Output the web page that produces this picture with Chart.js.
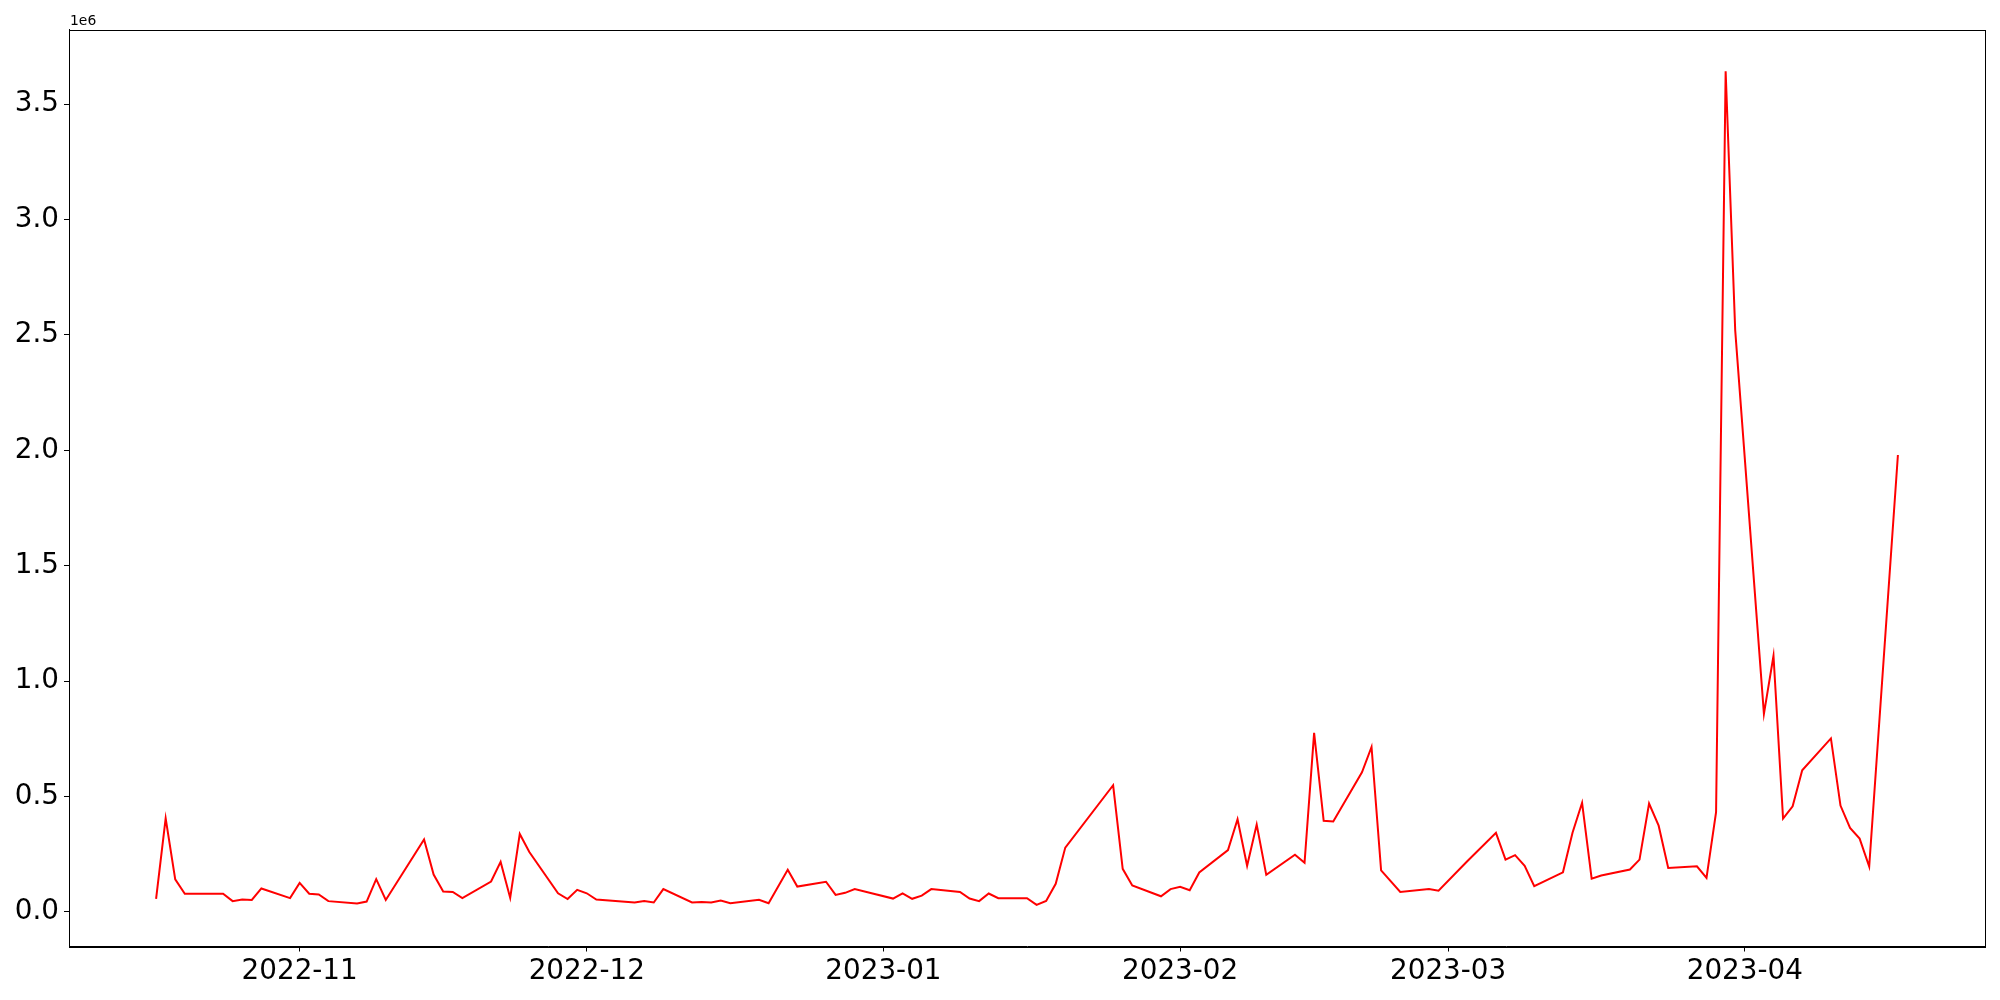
<!DOCTYPE html>
<html>
<head>
<meta charset="utf-8">
<title>Daily values</title>
<script src="https://cdn.jsdelivr.net/npm/chart.js@4.4.0/dist/chart.umd.min.js"></script>
<style>
  body { margin: 0; background: #ffffff; }
  #lineChart { display: block; }
</style>
</head>
<body>
<canvas id="lineChart" width="2000" height="1000"></canvas>
<script>
// data (values in millions)
var dates = [
  "2022-10-17","2022-10-18","2022-10-19","2022-10-20","2022-10-24","2022-10-25","2022-10-26","2022-10-27","2022-10-28","2022-10-31",
  "2022-11-01","2022-11-02","2022-11-03","2022-11-04","2022-11-07","2022-11-08","2022-11-09","2022-11-10","2022-11-14","2022-11-15",
  "2022-11-16","2022-11-17","2022-11-18","2022-11-21","2022-11-22","2022-11-23","2022-11-24","2022-11-25","2022-11-28","2022-11-29",
  "2022-11-30","2022-12-01","2022-12-02","2022-12-06","2022-12-07","2022-12-08","2022-12-09","2022-12-12","2022-12-13","2022-12-14",
  "2022-12-15","2022-12-16","2022-12-19","2022-12-20","2022-12-22","2022-12-23","2022-12-26","2022-12-27","2022-12-28","2022-12-29",
  "2023-01-02","2023-01-03","2023-01-04","2023-01-05","2023-01-06","2023-01-09","2023-01-10","2023-01-11","2023-01-12","2023-01-13",
  "2023-01-16","2023-01-17","2023-01-18","2023-01-19","2023-01-20","2023-01-25","2023-01-26","2023-01-27","2023-01-30","2023-01-31",
  "2023-02-01","2023-02-02","2023-02-03","2023-02-06","2023-02-07","2023-02-08","2023-02-09","2023-02-10","2023-02-13","2023-02-14",
  "2023-02-15","2023-02-16","2023-02-17","2023-02-20","2023-02-21","2023-02-22","2023-02-24","2023-02-27","2023-02-28","2023-03-03",
  "2023-03-06","2023-03-07","2023-03-08","2023-03-09","2023-03-10","2023-03-13","2023-03-14","2023-03-15","2023-03-16","2023-03-17",
  "2023-03-20","2023-03-21","2023-03-22","2023-03-23","2023-03-24","2023-03-27","2023-03-28","2023-03-29","2023-03-30","2023-03-31",
  "2023-04-03","2023-04-04","2023-04-05","2023-04-06","2023-04-07","2023-04-10","2023-04-11","2023-04-12","2023-04-13","2023-04-14",
  "2023-04-17"
];
var valuesM = [
  0.057,0.406,0.141,0.079,0.079,0.047,0.054,0.052,0.102,0.060,
  0.126,0.079,0.076,0.047,0.037,0.045,0.142,0.052,0.314,0.162,
  0.089,0.087,0.060,0.132,0.217,0.061,0.338,0.260,0.081,0.056,
  0.096,0.081,0.054,0.041,0.048,0.041,0.099,0.041,0.043,0.041,
  0.050,0.038,0.053,0.038,0.183,0.110,0.131,0.074,0.083,0.099,
  0.058,0.081,0.057,0.071,0.099,0.087,0.058,0.047,0.080,0.060,
  0.060,0.031,0.048,0.122,0.279,0.549,0.187,0.115,0.068,0.099,
  0.109,0.094,0.171,0.268,0.402,0.200,0.379,0.161,0.248,0.213,
  0.776,0.395,0.392,0.605,0.715,0.180,0.087,0.100,0.092,0.220,
  0.343,0.227,0.246,0.200,0.112,0.172,0.343,0.473,0.144,0.158,
  0.184,0.227,0.470,0.374,0.191,0.198,0.148,0.432,3.643,2.520,
  0.858,1.110,0.405,0.458,0.614,0.752,0.461,0.364,0.318,0.197,
  1.980
];
// x tick labels (month starts)
var monthTicks = ["2022-11-01","2022-12-01","2023-01-01","2023-02-01","2023-03-01","2023-04-01"];
// y tick labels
var yTicks = [0, 0.5, 1.0, 1.5, 2.0, 2.5, 3.0, 3.5];

function toMs(d) {
  var p = d.split("-");
  return Date.UTC(+p[0], +p[1] - 1, +p[2]);
}

var points = [];
for (var i = 0; i < dates.length; i++) {
  points.push({ x: toMs(dates[i]), y: valuesM[i] * 1e6 });
}

// matplotlib style 5% margins
var xMin = points[0].x, xMax = points[points.length - 1].x;
var xPad = (xMax - xMin) * 0.05;
var yMin = Math.min.apply(null, valuesM) * 1e6, yMax = Math.max.apply(null, valuesM) * 1e6;
var yPad = (yMax - yMin) * 0.05;

var font = "'DejaVu Sans', sans-serif";

// frame + offset text like matplotlib
var framePlugin = {
  id: "frame",
  afterDraw: function(chart) {
    var a = chart.chartArea;
    var ctx = chart.ctx;
    ctx.save();
    ctx.strokeStyle = "#000000";
    ctx.lineWidth = 1;
    ctx.strokeRect(Math.round(a.left) + 0.5, Math.round(a.top) + 0.5,
                   Math.round(a.right - a.left), Math.round(a.bottom - a.top));
    ctx.fillStyle = "#000000";
    ctx.font = "13.9px " + font;
    ctx.textAlign = "left";
    ctx.textBaseline = "alphabetic";
    ctx.fillText("1e6", a.left + 1, a.top - 5);
    ctx.restore();
  }
};

var config = {
  type: "line",
  data: {
    datasets: [{
      label: "value",
      data: points,
      borderColor: "#ff0000",
      borderWidth: 2,
      pointRadius: 0,
      tension: 0,
      fill: false
    }]
  },
  options: {
    responsive: false,
    animation: false,
    devicePixelRatio: 1,
    layout: { padding: { left: 0, right: 15, top: 29.5, bottom: 0 } },
    plugins: {
      legend: { display: false },
      tooltip: { enabled: false }
    },
    scales: {
      x: {
        type: "linear",
        min: xMin - xPad,
        max: xMax + xPad,
        afterBuildTicks: function(scale) {
          scale.ticks = monthTicks.map(function(m) { return { value: toMs(m) }; });
        },
        afterFit: function(scale) { scale.height = 53.5; },
        ticks: {
          autoSkip: false,
          maxRotation: 0,
          padding: 4,
          color: "#000000",
          font: { family: font, size: 27.8 },
          callback: function(v) {
            var d = new Date(v);
            var m = d.getUTCMonth() + 1;
            return d.getUTCFullYear() + "-" + (m < 10 ? "0" + m : m);
          }
        },
        grid: { drawOnChartArea: false, drawTicks: true, tickLength: 5, color: "#000000" },
        border: { display: true, color: "#000000" }
      },
      y: {
        type: "linear",
        min: yMin - yPad,
        max: yMax + yPad,
        afterBuildTicks: function(scale) {
          scale.ticks = yTicks.map(function(t) { return { value: t * 1e6 }; });
        },
        afterFit: function(scale) { scale.width = 69; },
        ticks: {
          padding: 5,
          color: "#000000",
          font: { family: font, size: 27.8 },
          callback: function(v) { return (v / 1e6).toFixed(1); }
        },
        grid: { drawOnChartArea: false, drawTicks: true, tickLength: 5, color: "#000000" },
        border: { display: true, color: "#000000" }
      }
    }
  },
  plugins: [framePlugin]
};

// Declare new Chart
var ctx = document.getElementById("lineChart");
var chart = new Chart(ctx, config);
</script>
</body>
</html>
